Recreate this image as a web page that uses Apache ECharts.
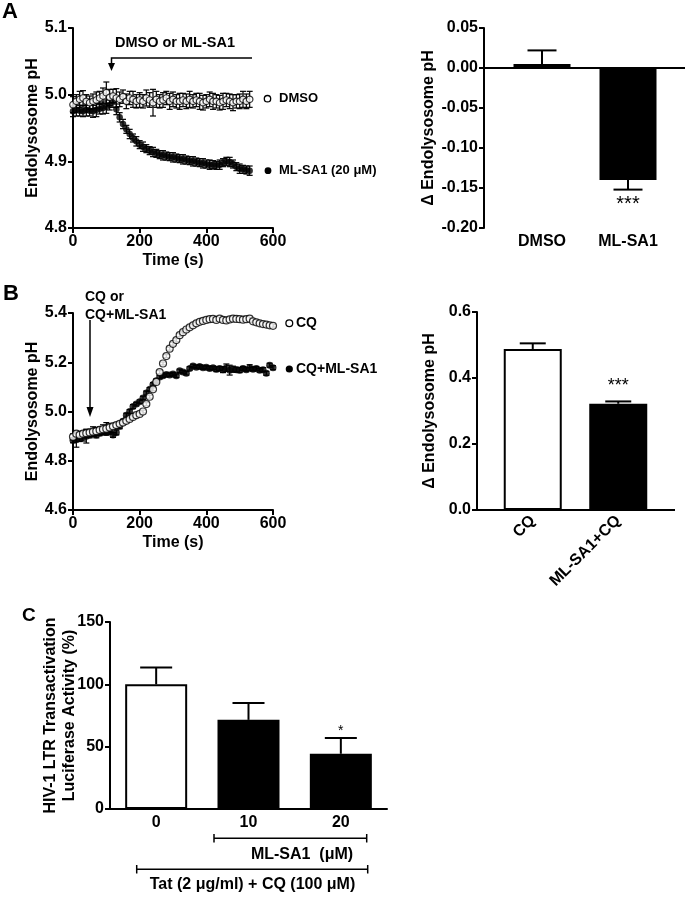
<!DOCTYPE html>
<html><head><meta charset="utf-8">
<script src="https://cdn.jsdelivr.net/npm/echarts@6/dist/echarts.min.js"></script>
<style>html,body{margin:0;padding:0;background:#fff}#c{width:685px;height:897px}</style>
</head><body><div id="c"></div>
<script>
// ---------- Panel A (time course) ----------
const timeA = [0,10,20,30,40,50,60,70,80,90,100,110,120,130,140,150,160,170,180,190,200,210,220,230,240,250,260,270,280,290,300,310,320,330,340,350,360,370,380,390,400,410,420,430,440,450,460,470,480,490,500,510,520,530];
const dmsoPH = [4.985,4.990,4.993,4.995,4.990,4.988,4.990,4.992,4.995,4.998,
 5.003,4.996,4.998,4.995,4.993,4.997,4.990,4.995,4.993,4.990,
 4.992,4.990,4.995,4.992,4.988,4.993,4.990,4.992,4.995,4.990,
 4.993,4.990,4.990,4.992,4.990,4.993,4.990,4.992,4.990,4.988,
 4.990,4.993,4.990,4.990,4.988,4.990,4.992,4.990,4.988,4.990,
 4.990,4.993,4.990,4.993];
const dmsoErr = [0.012,0.010,0.012,0.011,0.010,0.010,0.011,0.012,0.010,0.012,
 0.016,0.012,0.010,0.014,0.011,0.010,0.011,0.010,0.012,0.010,
 0.011,0.010,0.012,0.011,0.020,0.012,0.010,0.011,0.010,0.012,
 0.011,0.010,0.012,0.010,0.011,0.012,0.010,0.010,0.012,0.011,
 0.010,0.011,0.012,0.010,0.011,0.012,0.010,0.011,0.012,0.010,
 0.011,0.012,0.011,0.012];
const mlsa1PH = [4.975,4.977,4.976,4.975,4.977,4.976,4.975,4.977,4.979,4.980,
 4.982,4.985,4.990,4.978,4.966,4.956,4.948,4.941,4.935,4.930,
 4.925,4.922,4.919,4.916,4.914,4.912,4.910,4.909,4.908,4.907,
 4.906,4.905,4.904,4.903,4.902,4.901,4.900,4.899,4.898,4.897,
 4.896,4.895,4.895,4.894,4.895,4.898,4.900,4.899,4.896,4.892,
 4.889,4.888,4.887,4.886];
const mlsa1Err = [0.008,0.009,0.008,0.008,0.009,0.008,0.009,0.010,0.008,0.009,
 0.010,0.008,0.009,0.008,0.007,0.007,0.006,0.007,0.006,0.007,
 0.006,0.007,0.006,0.006,0.007,0.006,0.006,0.007,0.006,0.006,
 0.007,0.006,0.006,0.007,0.006,0.006,0.007,0.006,0.006,0.007,
 0.006,0.007,0.006,0.006,0.007,0.006,0.006,0.007,0.006,0.006,
 0.007,0.006,0.006,0.007];
const axisTimeA = [0, 600, 200];
const axisPHA = [4.8, 5.1, 0.1];

// ---------- Panel A (bars) ----------
const barACats = ['DMSO', 'ML-SA1'];
const barAVals = [0.005, -0.14];
const barAErr = [0.017, 0.012];
const barASig = ['', '***'];
const axisBarA = [-0.20, 0.05, 0.05];

// ---------- Panel B (time course) ----------
const timeB = [0,10,20,30,40,50,60,70,80,90,100,110,120,130,140,150,160,170,180,190,200,210,220,230,240,250,260,270,280,290,300,310,320,330,340,350,360,370,380,390,400,410,420,430,440,450,460,470,480,490,500,510,520,530,540,550,560,570,580,590,600];
const cqPH = [4.897,4.910,4.905,4.910,4.912,4.915,4.918,4.920,4.925,4.928,
 4.930,4.935,4.940,4.945,4.950,4.955,4.962,4.970,4.978,4.985,
 4.990,5.000,5.030,5.060,5.090,5.120,5.160,5.195,5.225,5.255,
 5.275,5.290,5.310,5.322,5.333,5.342,5.350,5.358,5.364,5.368,
 5.372,5.375,5.376,5.372,5.377,5.372,5.370,5.374,5.377,5.376,
 5.375,5.373,5.375,5.377,5.366,5.362,5.358,5.355,5.353,5.350,
 5.348];
const cqErr = [0.012,0.010,0.012,0.010,0.015,0.012,0.020,0.015,0.012,0.018,
 0.025,0.015,0.012,0.010,0.008,0.008,0.008,0.007,0.007,0.007,
 0.006,0.006,0.006,0.006,0.006,0.006,0.006,0.006,0.006,0.006,
 0.006,0.006,0.006,0.006,0.006,0.006,0.006,0.006,0.006,0.006,
 0.005,0.005,0.005,0.005,0.005,0.005,0.005,0.005,0.005,0.005,
 0.005,0.005,0.005,0.005,0.005,0.005,0.005,0.005,0.005,0.005,
 0.005];
const cqMlPH = [4.883,4.885,4.890,4.895,4.900,4.905,4.910,4.905,4.912,4.918,
 4.915,4.920,4.905,4.915,4.940,4.960,4.985,5.000,5.020,5.030,
 5.040,5.055,5.075,5.090,5.110,5.125,5.140,5.145,5.150,5.148,
 5.152,5.145,5.165,5.160,5.155,5.175,5.185,5.180,5.183,5.178,
 5.180,5.175,5.178,5.172,5.175,5.170,5.178,5.168,5.172,5.170,
 5.168,5.175,5.170,5.178,5.172,5.175,5.168,5.170,5.155,5.188,
 5.178];
const cqMlErr = [0.010,0.030,0.012,0.015,0.028,0.012,0.010,0.012,0.010,0.012,
 0.010,0.012,0.010,0.010,0.010,0.008,0.008,0.008,0.008,0.007,
 0.007,0.007,0.008,0.007,0.007,0.007,0.007,0.007,0.007,0.007,
 0.007,0.007,0.007,0.007,0.007,0.007,0.007,0.007,0.007,0.007,
 0.007,0.007,0.007,0.010,0.008,0.012,0.015,0.020,0.012,0.010,
 0.010,0.008,0.008,0.012,0.008,0.008,0.008,0.008,0.008,0.008,
 0.008];
const axisTimeB = [0, 600, 200];
const axisPHB = [4.6, 5.4, 0.2];

// ---------- Panel B (bars) ----------
const barBCats = ['CQ', 'ML-SA1+CQ'];
const barBVals = [0.488, 0.322];
const barBErr = [0.017, 0.007];
const barBSig = ['', '***'];
const axisBarB = [0, 0.6, 0.2];

// ---------- Panel C (bars) ----------
const barCCats = ['0', '10', '20'];
const barCVals = [100, 71.5, 44.3];
const barCErr = [13.5, 13.5, 12.7];
const barCSig = ['', '', '*'];
const axisBarC = [0, 150, 50];

const FF = '"Liberation Sans", Arial, sans-serif';
const chart = echarts.init(document.getElementById('c'), null, {renderer: 'canvas'});

function pointErr(cap) {
  return function (params, api) {
    const x = api.value(0), y = api.value(1), e = api.value(2);
    const a = api.coord([x, y - e]), b = api.coord([x, y + e]);
    const st = {stroke: '#000', lineWidth: 1.2};
    return {type: 'group', children: [
      {type: 'line', shape: {x1: a[0], y1: a[1], x2: b[0], y2: b[1]}, style: st},
      {type: 'line', shape: {x1: a[0] - cap, y1: a[1], x2: a[0] + cap, y2: a[1]}, style: st},
      {type: 'line', shape: {x1: b[0] - cap, y1: b[1], x2: b[0] + cap, y2: b[1]}, style: st}
    ]};
  };
}
function barErr(cap, sig, off, font) {
  return function (params, api) {
    const i = api.value(0), v = api.value(1), e = api.value(2);
    const s = v < 0 ? -1 : 1;
    const a = api.coord([i, v]), b = api.coord([i, v + s * e]);
    const st = {stroke: '#000', lineWidth: 2};
    return {type: 'group', children: [
      {type: 'line', shape: {x1: a[0], y1: a[1], x2: b[0], y2: b[1]}, style: st},
      {type: 'line', shape: {x1: b[0] - cap, y1: b[1], x2: b[0] + cap, y2: b[1]}, style: st},
      {type: 'text', style: {text: sig[params.dataIndex], x: b[0], y: b[1] - s * off,
        align: 'center', verticalAlign: 'middle', font: font, fill: '#000'}}
    ]};
  };
}
function baseline(extL, extR) {
  return function (params, api) {
    const cs = params.coordSys;
    const y = api.coord([0, 0])[1];
    return {type: 'line', shape: {x1: cs.x - extL, y1: y, x2: cs.x + cs.width + extR, y2: y},
      style: {stroke: '#000', lineWidth: 2}};
  };
}

const lbl = {color: '#000', fontFamily: FF, fontWeight: 'bold', fontSize: 16};
const axLine = {show: true, lineStyle: {color: '#000', width: 2}};
const axTick = {show: true, length: 5, lineStyle: {color: '#000', width: 2}};
const nameSt = {color: '#000', fontFamily: FF, fontWeight: 'bold', fontSize: 16};

function valAxis(gi, r, fmtDigits, extra) {
  return Object.assign({
    type: 'value', gridIndex: gi, min: r[0], max: r[1], interval: r[2],
    axisLine: axLine, axisTick: axTick, splitLine: {show: false},
    axisLabel: Object.assign({margin: 6, formatter: v => v.toFixed(fmtDigits)}, lbl),
    nameTextStyle: nameSt, nameLocation: 'middle', nameMoveOverlap: false
  }, extra || {});
}

const gridBase = {containLabel: false, outerBoundsMode: 'none'};
const option = {
  animation: false,
  backgroundColor: '#fff',
  grid: [
    Object.assign({left: 73, top: 28, width: 200, height: 200}, gridBase),
    Object.assign({left: 499, top: 28, width: 172, height: 200}, gridBase),
    Object.assign({left: 73, top: 313, width: 200, height: 197}, gridBase),
    Object.assign({left: 490, top: 312, width: 171, height: 198}, gridBase),
    Object.assign({left: 110, top: 622, width: 277, height: 187}, gridBase)
  ],
  xAxis: [
    valAxis(0, axisTimeA, 0, {name: 'Time (s)', nameGap: 25}),
    {type: 'category', gridIndex: 1, data: barACats, axisLine: {show: false}, axisTick: {show: false},
      axisLabel: Object.assign({margin: 6, interval: 0}, lbl)},
    valAxis(2, axisTimeB, 0, {name: 'Time (s)', nameGap: 25}),
    {type: 'category', gridIndex: 3, data: barBCats, axisLine: {show: false}, axisTick: {show: false},
      axisLabel: Object.assign({margin: 8, rotate: 45, interval: 0}, lbl)},
    {type: 'category', gridIndex: 4, data: barCCats, axisLine: axLine, axisTick: {show: false},
      axisLabel: Object.assign({margin: 6, interval: 0}, lbl)}
  ],
  yAxis: [
    valAxis(0, axisPHA, 1, {name: 'Endolysosome pH', nameGap: 32}),
    valAxis(1, axisBarA, 2, {name: '\u0394 Endolysosome pH', nameGap: 47, offset: 15}),
    valAxis(2, axisPHB, 1, {name: 'Endolysosome pH', nameGap: 32}),
    valAxis(3, axisBarB, 1, {name: '\u0394 Endolysosome pH', nameGap: 39, offset: 13}),
    valAxis(4, axisBarC, 0, {name: 'HIV-1 LTR Transactivation\nLuciferase Activity (%)', nameGap: 31,
      nameTextStyle: Object.assign({lineHeight: 19}, nameSt)})
  ],
  series: [
    // Panel A time course
    {type: 'custom', xAxisIndex: 0, yAxisIndex: 0, renderItem: pointErr(3), encode: {x: 0, y: 1}, z: 1,
      data: timeA.map((t, i) => [t, mlsa1PH[i], mlsa1Err[i]])},
    {type: 'custom', xAxisIndex: 0, yAxisIndex: 0, renderItem: pointErr(3), encode: {x: 0, y: 1}, z: 1,
      data: timeA.map((t, i) => [t, dmsoPH[i], dmsoErr[i]])},
    {type: 'scatter', xAxisIndex: 0, yAxisIndex: 0, symbol: 'circle', symbolSize: 6.5, z: 3,
      itemStyle: {color: '#000'}, data: timeA.map((t, i) => [t, mlsa1PH[i]])},
    {type: 'scatter', xAxisIndex: 0, yAxisIndex: 0, symbol: 'circle', symbolSize: 6.5, z: 4,
      itemStyle: {color: '#fff', borderColor: '#000', borderWidth: 1.2}, data: timeA.map((t, i) => [t, dmsoPH[i]])},
    // Panel A bars
    {type: 'bar', xAxisIndex: 1, yAxisIndex: 1, barWidth: 57, z: 2,
      data: barAVals.map((v, i) => ({value: v, itemStyle: {color: i === 0 ? '#fff' : '#000', borderColor: '#000', borderWidth: 2}}))},
    {type: 'custom', xAxisIndex: 1, yAxisIndex: 1, z: 3, renderItem: barErr(14.5, barASig, 15, '20px ' + FF),
      encode: {x: 0, y: 1}, data: barAVals.map((v, i) => [i, v, barAErr[i]])},
    {type: 'custom', xAxisIndex: 1, yAxisIndex: 1, z: 4, renderItem: baseline(15, 14), data: [[0, 0]]},
    // Panel B time course
    {type: 'custom', xAxisIndex: 2, yAxisIndex: 2, renderItem: pointErr(3), encode: {x: 0, y: 1}, z: 1,
      data: timeB.map((t, i) => [t, cqMlPH[i], cqMlErr[i]])},
    {type: 'custom', xAxisIndex: 2, yAxisIndex: 2, renderItem: pointErr(3), encode: {x: 0, y: 1}, z: 1,
      data: timeB.map((t, i) => [t, cqPH[i], cqErr[i]])},
    {type: 'scatter', xAxisIndex: 2, yAxisIndex: 2, symbol: 'circle', symbolSize: 7, z: 3,
      itemStyle: {color: '#000'}, data: timeB.map((t, i) => [t, cqMlPH[i]])},
    {type: 'scatter', xAxisIndex: 2, yAxisIndex: 2, symbol: 'circle', symbolSize: 7, z: 4,
      itemStyle: {color: '#fff', borderColor: '#000', borderWidth: 1.2}, data: timeB.map((t, i) => [t, cqPH[i]])},
    // Panel B bars
    {type: 'bar', xAxisIndex: 3, yAxisIndex: 3, barWidth: 58, z: 2,
      data: barBVals.map((v, i) => ({value: v, itemStyle: {color: i === 0 ? '#fff' : '#000', borderColor: '#000', borderWidth: 2}}))},
    {type: 'custom', xAxisIndex: 3, yAxisIndex: 3, z: 3, renderItem: barErr(13, barBSig, 15, '18px ' + FF),
      encode: {x: 0, y: 1}, data: barBVals.map((v, i) => [i, v, barBErr[i]])},
    {type: 'custom', xAxisIndex: 3, yAxisIndex: 3, z: 4, renderItem: baseline(13, 14), data: [[0, 0]]},
    // Panel C bars
    {type: 'bar', xAxisIndex: 4, yAxisIndex: 4, barWidth: 62, z: 2,
      data: barCVals.map((v, i) => ({value: v, itemStyle: {color: i === 0 ? '#fff' : '#000', borderColor: '#000', borderWidth: 2}}))},
    {type: 'custom', xAxisIndex: 4, yAxisIndex: 4, z: 3, renderItem: barErr(16, barCSig, 7, '14px ' + FF),
      encode: {x: 0, y: 1}, data: barCVals.map((v, i) => [i, v, barCErr[i]])}
  ],
  graphic: [
    // panel letters
    {type: 'text', left: 2, top: 1, style: {text: 'A', font: 'bold 22px ' + FF, fill: '#000'}},
    {type: 'text', left: 3, top: 283, style: {text: 'B', font: 'bold 22px ' + FF, fill: '#000'}},
    {type: 'text', left: 22, top: 606, style: {text: 'C', font: 'bold 19px ' + FF, fill: '#000'}},
    // Panel A annotation
    {type: 'text', x: 175, y: 43, style: {text: 'DMSO or ML-SA1', font: 'bold 14.5px ' + FF, fill: '#000', align: 'center', verticalAlign: 'middle'}},
    {type: 'polyline', shape: {points: [[111.5, 65], [111.5, 58], [252, 58]]}, style: {stroke: '#000', lineWidth: 1.5, fill: null}},
    {type: 'polygon', shape: {points: [[108, 63], [115, 63], [111.5, 71]]}, style: {fill: '#000'}},
    {type: 'circle', shape: {cx: 267.5, cy: 98.7, r: 3.2}, style: {fill: '#fff', stroke: '#000', lineWidth: 1.3}},
    {type: 'text', x: 279, y: 98.7, style: {text: 'DMSO', font: 'bold 13px ' + FF, fill: '#000', verticalAlign: 'middle'}},
    {type: 'circle', shape: {cx: 268, cy: 170.7, r: 3.4}, style: {fill: '#000'}},
    {type: 'text', x: 279, y: 170.7, style: {text: 'ML-SA1 (20 \u03bcM)', font: 'bold 13px ' + FF, fill: '#000', verticalAlign: 'middle'}},
    // Panel B annotation
    {type: 'text', x: 85, y: 297, style: {text: 'CQ or', font: 'bold 14px ' + FF, fill: '#000', verticalAlign: 'middle'}},
    {type: 'text', x: 85, y: 315, style: {text: 'CQ+ML-SA1', font: 'bold 14px ' + FF, fill: '#000', verticalAlign: 'middle'}},
    {type: 'line', shape: {x1: 90, y1: 320, x2: 90, y2: 409}, style: {stroke: '#000', lineWidth: 1.5}},
    {type: 'polygon', shape: {points: [[86.5, 407], [93.5, 407], [90, 417]]}, style: {fill: '#000'}},
    {type: 'circle', shape: {cx: 289.3, cy: 323.3, r: 3.4}, style: {fill: '#fff', stroke: '#000', lineWidth: 1.3}},
    {type: 'text', x: 296, y: 323.3, style: {text: 'CQ', font: 'bold 14px ' + FF, fill: '#000', verticalAlign: 'middle'}},
    {type: 'circle', shape: {cx: 289.3, cy: 369, r: 3.6}, style: {fill: '#000'}},
    {type: 'text', x: 296, y: 369, style: {text: 'CQ+ML-SA1', font: 'bold 14px ' + FF, fill: '#000', verticalAlign: 'middle'}},
    // Panel C brackets
    {type: 'line', shape: {x1: 214, y1: 838.3, x2: 366.7, y2: 838.3}, style: {stroke: '#000', lineWidth: 1.5}},
    {type: 'line', shape: {x1: 214, y1: 834, x2: 214, y2: 842.5}, style: {stroke: '#000', lineWidth: 1.5}},
    {type: 'line', shape: {x1: 366.7, y1: 834, x2: 366.7, y2: 842.5}, style: {stroke: '#000', lineWidth: 1.5}},
    {type: 'text', x: 302, y: 855, style: {text: 'ML-SA1  (\u03bcM)', font: 'bold 16px ' + FF, fill: '#000', align: 'center', verticalAlign: 'middle'}},
    {type: 'line', shape: {x1: 136.7, y1: 869.3, x2: 367.7, y2: 869.3}, style: {stroke: '#000', lineWidth: 1.5}},
    {type: 'line', shape: {x1: 136.7, y1: 865, x2: 136.7, y2: 873.5}, style: {stroke: '#000', lineWidth: 1.5}},
    {type: 'line', shape: {x1: 367.7, y1: 865, x2: 367.7, y2: 873.5}, style: {stroke: '#000', lineWidth: 1.5}},
    {type: 'text', x: 252.5, y: 885, style: {text: 'Tat (2 \u03bcg/ml) + CQ (100 \u03bcM)', font: 'bold 16px ' + FF, fill: '#000', align: 'center', verticalAlign: 'middle'}}
  ]
};
chart.setOption(option);
</script>
</body></html>
